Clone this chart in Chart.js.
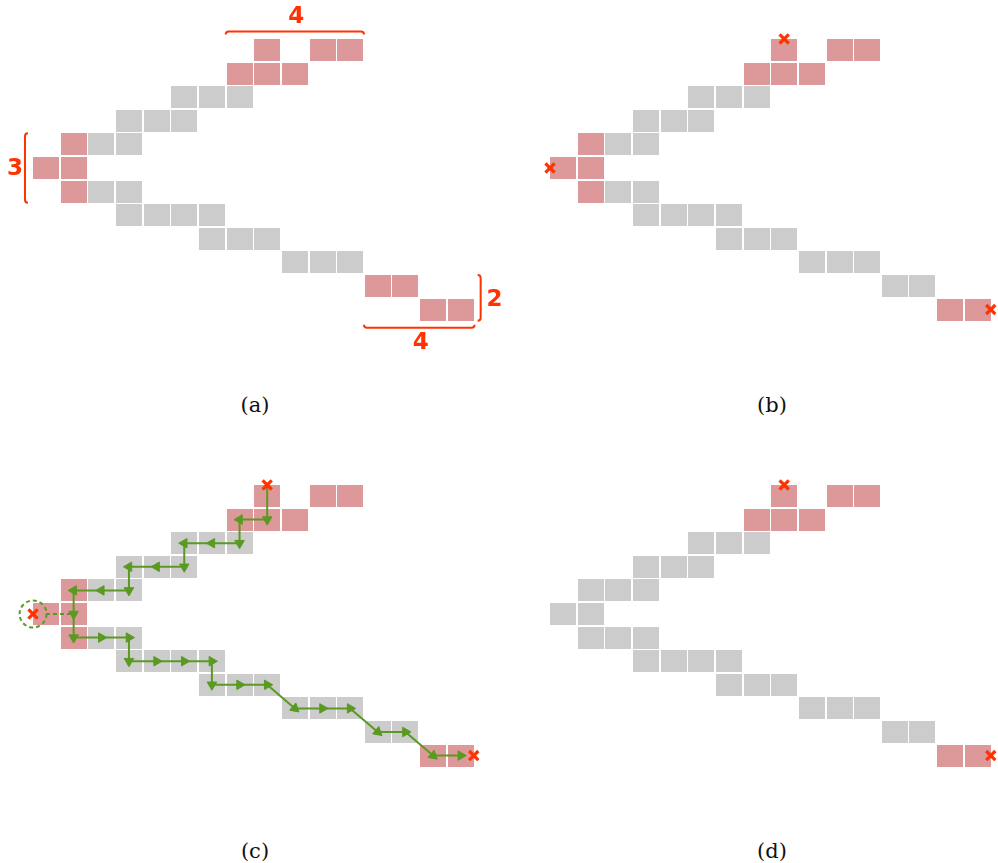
<!DOCTYPE html>
<html>
<head>
<meta charset="utf-8">
<script src="https://cdn.jsdelivr.net/npm/chart.js@4"></script>
<style>
  html, body { margin: 0; padding: 0; background: #fff; overflow: hidden; }
  #wrap { position: relative; width: 998px; height: 863px; overflow: hidden; }
  #wrap canvas { position: absolute; }
  .cap { position: absolute; width: 100px; text-align: center; line-height: 24px;
         font-family: "DejaVu Serif", serif; font-size: 21px; color: #111; }
</style>
</head>
<body>
<div id="wrap">
  <canvas id="pa" width="517" height="380" style="left:0;top:0"></canvas>
  <canvas id="pb" width="517" height="380" style="left:517px;top:0"></canvas>
  <canvas id="pc" width="517" height="380" style="left:0;top:446px"></canvas>
  <canvas id="pd" width="517" height="380" style="left:517px;top:446px"></canvas>
  <div class="cap" style="left:205px;top:393px">(a)</div>
  <div class="cap" style="left:722px;top:393px">(b)</div>
  <div class="cap" style="left:205px;top:839px">(c)</div>
  <div class="cap" style="left:722px;top:839px">(d)</div>
</div>
<script>
// cells are [column, row], row 0 at the top
const upperPink = [[8, 0], [10, 0], [11, 0], [7, 1], [8, 1], [9, 1]]
const leftCells = [[1, 4], [0, 5], [1, 5], [1, 6]]
const row10Cells = [[12, 10], [13, 10]]
const lastCells = [[14, 11], [15, 11]]
const greyCells = [[5, 2], [6, 2], [7, 2], [3, 3], [4, 3], [5, 3], [2, 4], [3, 4],
    [2, 6], [3, 6], [3, 7], [4, 7], [5, 7], [6, 7], [6, 8], [7, 8], [8, 8],
    [9, 9], [10, 9], [11, 9]]

// the crosses sit on cell edges
const topMark = [8, -0.47]
const leftMark = [-0.47, 5]
const rightMark = [15.47, 11]

// walk shown in (c)
const walkC = [[8, -0.47], [8, 1], [7, 1], [7, 2], [6, 2], [5, 2], [5, 3], [4, 3], [3, 3],
    [3, 4], [2, 4], [1, 4], [1, 5], [1, 6], [2, 6], [3, 6], [3, 7], [4, 7], [5, 7], [6, 7],
    [6, 8], [7, 8], [8, 8], [9, 9], [10, 9], [11, 9], [12, 10], [13, 10], [14, 11], [15, 11]]
const dashC = [[0, 5], [1, 5]]

// brace labels in (a): top, left, right, bottom
const braceLabels = ["4", "3", "2", "4"]

const PINK = "#dd999a"
const GREY = "#cccccc"
const RED = "#ff3300"
const GREEN = "#5a9a22"

// pixel layout of the grid
const colPx = 27.65, rowPx = 23.6, W = 517, H = 380
const xMin = -46 / colPx, yMin = -50 / rowPx

const pts = arr => arr.map(p => ({ x: p[0], y: p[1] }))

function cellImg(color) {
    const c = document.createElement("canvas")
    c.width = 26; c.height = 22
    const g = c.getContext("2d")
    g.fillStyle = color
    g.fillRect(0, 0, 26, 22)
    return c
}
const pinkImg = cellImg(PINK)
const greyImg = cellImg(GREY)

const ringImg = (() => {
    const c = document.createElement("canvas")
    c.width = 32; c.height = 32
    const g = c.getContext("2d")
    g.strokeStyle = GREEN
    g.lineWidth = 2
    g.setLineDash([4, 3])
    g.beginPath()
    g.arc(16, 16, 13.5, 0, Math.PI * 2)
    g.stroke()
    return c
})()

function cells(data, img) {
    return { data: pts(data), pointStyle: img, pointRadius: 13, order: 5 }
}
function marks(data) {
    return { data: pts(data), pointStyle: "crossRot", pointRadius: 6.5, borderWidth: 3.2,
        borderColor: RED, order: 0 }
}

function arrowAngle(ctx) {
    const d = ctx.dataset.data, i = ctx.dataIndex
    if (!i) return 0
    const sx = ctx.chart.scales.x, sy = ctx.chart.scales.y
    const dx = sx.getPixelForValue(d[i].x) - sx.getPixelForValue(d[i - 1].x)
    const dy = sy.getPixelForValue(d[i].y) - sy.getPixelForValue(d[i - 1].y)
    return Math.atan2(dx, -dy) * 180 / Math.PI
}

const bracePlugin = {
    id: "braces",
    afterDatasetsDraw(chart) {
        const ctx = chart.ctx
        const X = v => chart.scales.x.getPixelForValue(v)
        const Y = v => chart.scales.y.getPixelForValue(v)
        const h = 3
        ctx.save()
        ctx.strokeStyle = RED
        ctx.lineWidth = 2
        ctx.beginPath()
        // top, hooks down
        let x1 = X(6.5), x2 = X(11.5), y = Y(-0.78)
        ctx.moveTo(x1, y + h); ctx.quadraticCurveTo(x1, y, x1 + h, y)
        ctx.lineTo(x2 - h, y); ctx.quadraticCurveTo(x2, y, x2, y + h)
        // bottom, hooks up
        x1 = X(11.5); x2 = X(15.5); y = Y(11.77)
        ctx.moveTo(x1, y - h); ctx.quadraticCurveTo(x1, y, x1 + h, y)
        ctx.lineTo(x2 - h, y); ctx.quadraticCurveTo(x2, y, x2, y - h)
        // left, hooks right
        let x = X(-0.76), y1 = Y(3.53), y2 = Y(6.47)
        ctx.moveTo(x + h, y1); ctx.quadraticCurveTo(x, y1, x, y1 + h)
        ctx.lineTo(x, y2 - h); ctx.quadraticCurveTo(x, y2, x + h, y2)
        // right, hooks left
        x = X(15.72); y1 = Y(9.53); y2 = Y(11.47)
        ctx.moveTo(x - h, y1); ctx.quadraticCurveTo(x, y1, x, y1 + h)
        ctx.lineTo(x, y2 - h); ctx.quadraticCurveTo(x, y2, x - h, y2)
        ctx.stroke()

        ctx.fillStyle = RED
        ctx.font = "bold 23px 'DejaVu Sans'"
        ctx.textAlign = "center"
        ctx.textBaseline = "middle"
        ctx.fillText(braceLabels[0], X(9.05), Y(-1.4))
        ctx.fillText(braceLabels[1], X(-1.12), Y(5.05))
        ctx.fillText(braceLabels[2], X(16.22), Y(10.6))
        ctx.fillText(braceLabels[3], X(13.55), Y(12.4))
        ctx.restore()
    }
}

function panel(id, datasets, extra) {
    new Chart(document.getElementById(id), {
        type: "scatter",
        data: { datasets },
        options: {
            responsive: false,
            animation: false,
            events: [],
            layout: { padding: 0, autoPadding: false },
            plugins: { legend: { display: false }, tooltip: { enabled: false } },
            scales: {
                x: { type: "linear", display: false, min: xMin, max: xMin + W / colPx },
                y: { type: "linear", display: false, reverse: true, min: yMin, max: yMin + H / rowPx }
            }
        },
        plugins: extra ? [extra] : []
    })
}

// (a)
panel("pa", [
    cells(upperPink.concat(leftCells, row10Cells, lastCells), pinkImg),
    cells(greyCells, greyImg)
], bracePlugin)

// (b)
panel("pb", [
    marks([topMark, leftMark, rightMark]),
    cells(upperPink.concat(leftCells, lastCells), pinkImg),
    cells(greyCells.concat(row10Cells), greyImg)
])

// (c)
panel("pc", [
    marks([topMark, leftMark, rightMark]),
    { data: pts([leftMark]), pointStyle: ringImg, pointRadius: 14, order: 1 },
    {
        data: pts(walkC), showLine: true, borderColor: GREEN, borderWidth: 2,
        pointStyle: "triangle", pointRadius: ctx => ctx.dataIndex === 0 ? 0 : 5.5,
        pointBackgroundColor: GREEN, pointBorderColor: GREEN, pointBorderWidth: 1,
        rotation: arrowAngle, order: 2
    },
    {
        data: pts(dashC), showLine: true, borderColor: GREEN, borderWidth: 2,
        borderDash: [4, 3], pointRadius: 0, order: 3
    },
    cells(upperPink.concat(leftCells, lastCells), pinkImg),
    cells(greyCells.concat(row10Cells), greyImg)
])

// (d)
panel("pd", [
    marks([topMark, rightMark]),
    cells(upperPink.concat(lastCells), pinkImg),
    cells(greyCells.concat(leftCells, row10Cells), greyImg)
])
</script>
</body>
</html>
